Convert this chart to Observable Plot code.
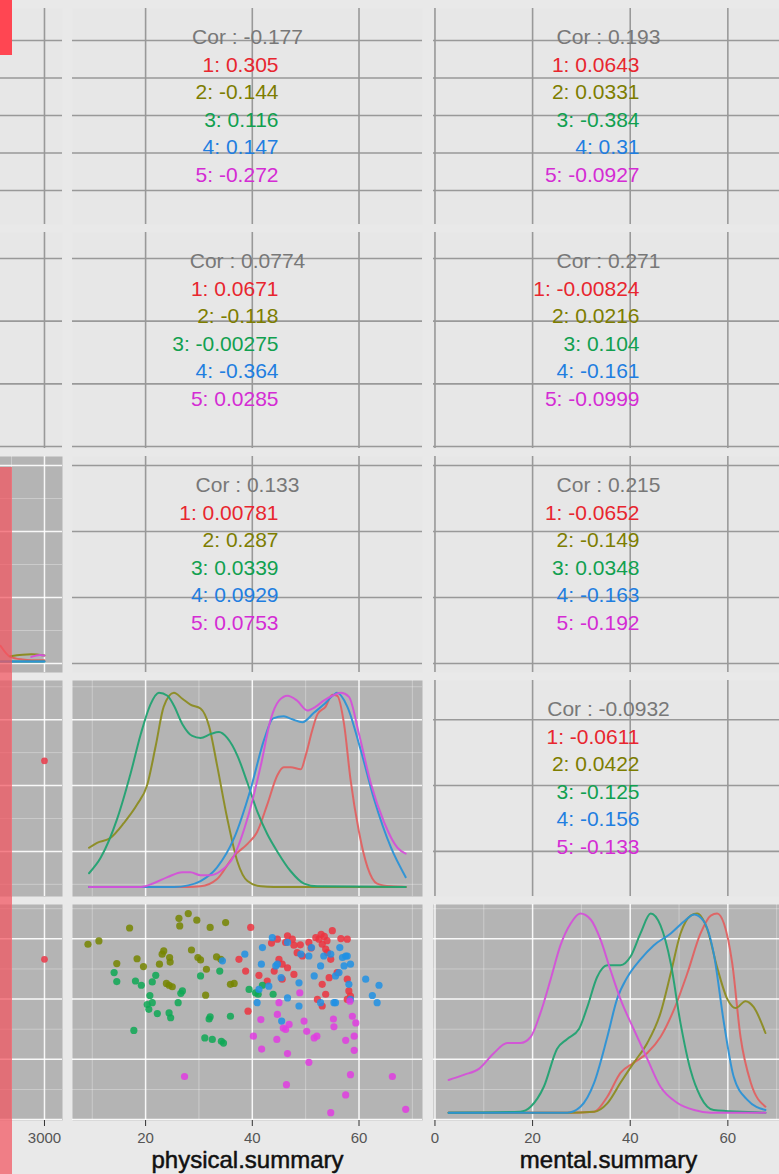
<!DOCTYPE html>
<html><head><meta charset="utf-8">
<script src="https://cdn.jsdelivr.net/npm/d3@7"></script>
<script src="https://cdn.jsdelivr.net/npm/@observablehq/plot@0.6"></script>
<style>
html,body{margin:0;padding:0;background:#e9e9e9;}
#chart{position:relative;width:779px;height:1174px;overflow:hidden;background:#e9e9e9;font-family:"Liberation Sans",Arial,sans-serif;}
#chart svg{position:absolute;}
.overlay{position:absolute;}
</style></head>
<body><div id="chart"></div>
<script>
// ---------- data ----------
const groups = ["1", "2", "3", "4", "5"];
const textColors = ["#e8262f", "#7d7d00", "#11a050", "#1f7ee0", "#d42cd4"];
const pointColors = ["#ec3440", "#758500", "#0ea855", "#2090e4", "#e03ce0"];
const lineColors = ["#e06262", "#8c8c22", "#22a272", "#2c92d6", "#d452d8"];

// correlation texts: rows 1..4, columns physical / mental
const corTotalPhys = [-0.177, 0.0774, 0.133];
const corTotalMent = [0.193, 0.271, 0.215, -0.0932];
const corGroupPhys = [
  [0.305, -0.144, 0.116, 0.147, -0.272],
  [0.0671, -0.118, -0.00275, -0.364, 0.0285],
  [0.00781, 0.287, 0.0339, 0.0929, 0.0753]
];
const corGroupMent = [
  [0.0643, 0.0331, -0.384, 0.31, -0.0927],
  [-0.00824, 0.0216, 0.104, -0.161, -0.0999],
  [-0.0652, -0.149, 0.0348, -0.163, -0.192],
  [-0.0611, 0.0422, -0.125, -0.156, -0.133]
];

// scatter: [physical.summary, mental.summary]
const pts1 = [[39.7,63.8],[37.5,53.2],[38.75,49.3],[41.25,47.9],[39.2,36.0],[43.6,58.6],[44.7,59.9],[45.0,53.2],[46.25,58.8],[46.6,61.0],[47.5,59.9],[47.8,57.9],[48.4,55.4],[49.4,54.3],[50.6,58.8],[51.9,60.4],[52.5,59.9],[53.1,58.2],[53.75,56.6],[55.0,62.7],[56.6,60.1],[57.8,59.9],[54.1,55.4],[54.7,53.2],[55.9,48.8],[54.4,47.1],[53.1,44.9],[53.75,41.6],[57.8,46.6],[58.1,42.7],[58.4,41.0],[57.8,39.9],[47.8,48.2],[45.6,46.6],[46.6,50.4],[42.8,46.0],[44.1,49.3],[53.1,37.7],[52.2,39.9],[45.6,51.6],[52.9,61.5],[53.5,60.8],[54.0,59.4],[51.0,57.0],[49.0,58.0]];
const pts2 = [[17.0,63.6],[26.25,66.8],[28.0,68.4],[29.6,66.2],[26.4,64.3],[32.1,63.8],[35.0,65.4],[9.2,58.2],[11.25,59.3],[18.4,53.4],[14.6,51.8],[19.6,50.8],[23.4,56.0],[23.1,54.9],[24.5,53.8],[22.6,51.6],[24.6,52.3],[28.6,56.3],[29.8,53.8],[30.3,53.0],[33.3,54.0],[34.1,53.2],[31.4,49.9],[23.9,45.2],[24.4,44.6],[25.0,44.1],[31.25,41.3],[35.9,44.9],[36.6,45.2]];
const pts3 = [[14.1,48.8],[14.6,45.8],[18.1,46.0],[19.2,44.6],[21.25,45.7],[21.9,47.9],[20.8,41.2],[20.3,38.2],[20.6,36.6],[22.2,35.2],[21.25,38.8],[24.4,35.4],[24.7,33.8],[26.1,38.8],[26.9,42.7],[26.6,41.9],[30.3,47.7],[33.9,49.3],[32.1,34.1],[31.9,33.4],[35.9,34.3],[17.8,29.6],[31.1,27.1],[32.5,26.6],[34.2,26.0],[34.6,25.4],[39.4,43.2],[40.6,42.1],[41.9,44.6],[43.9,41.6],[41.1,41.6]];
const pts4 = [[34.4,52.7],[38.6,54.9],[41.9,57.1],[43.75,60.4],[41.7,51.6],[44.4,51.0],[45.4,47.1],[49.1,54.9],[50.6,54.3],[52.8,51.0],[53.4,54.3],[54.7,54.9],[55.6,47.7],[56.25,48.8],[56.9,53.8],[57.8,54.3],[58.4,51.6],[46.6,40.4],[48.75,37.7],[52.8,38.8],[55.3,38.8],[58.1,44.9],[58.4,39.9],[61.25,46.6],[62.5,41.2],[63.4,38.8],[63.75,44.6],[40.9,38.8],[41.25,43.2],[43.1,44.3],[45.5,32.7],[48.75,45.4],[51.6,47.7],[44.7,51.6],[46.6,58.8],[51.1,57.1],[56.4,57.1],[57.5,54.3],[55.6,38.8],[57.2,51.0]];
const pts5 = [[27.3,14.3],[40.2,27.7],[41.75,23.4],[41.6,33.2],[44.6,26.6],[44.7,34.9],[46.25,29.9],[46.9,31.6],[45.0,38.8],[46.6,21.9],[48.9,42.1],[49.7,32.7],[50.2,29.3],[51.6,27.1],[52.1,27.7],[50.6,19.0],[55.2,33.4],[55.3,30.8],[57.5,26.3],[58.75,34.3],[59.4,32.1],[59.1,27.7],[59.1,23.0],[58.4,14.9],[57.5,8.2],[54.7,2.3],[58.3,39.3],[66.25,14.3],[68.75,3.4],[46.4,11.6],[45.8,30.4]];

// the one visible observation in the left (cut) variable
const leftValue = [3000];
const leftPhys = [47.5];
const leftMent = [53.2];

// density curves (relative density 0..1) of physical.summary by group
const densPhysX = [
  [9.4,28,30.3,33.4,36.6,39.1,40.9,42.8,44.7,45.9,47.2,49.1,50,51.25,52.2,53.75,55,55.9,57.2,58.4,60,61.6,63.4,66,68.75],
  [9.4,10.9,13.4,15.9,18.4,20.3,21.9,23.4,25.3,26.9,28.4,30.3,31.9,33.4,35.3,37.2,39.1,41.6,44,68.75],
  [9.4,11.6,14.7,17.2,19.1,20.9,22.5,24.1,25.3,26.9,28.75,30.3,32.2,33.75,35.3,37.2,39.1,41,42.8,44.7,47.2,49.7,52.2,68.75],
  [9.4,25.3,28,30.3,33.4,36.6,39.7,42.2,43.9,45.9,47.5,49.4,51.6,53.4,55.3,55.9,57.8,60.3,62.8,66,68.75],
  [9.4,19.1,21.6,24.1,26.9,28.4,30.3,32.2,34,36.6,39.1,41.6,43.4,45,46.6,48.4,50.3,51.9,53.4,55,56.6,58.1,60,62.2,64.7,67.2,68.75]
];
const densPhysD = [
  [0,0,0.003,0.04,0.16,0.22,0.28,0.42,0.57,0.61,0.61,0.60,0.67,0.80,0.88,0.92,0.98,0.975,0.83,0.55,0.28,0.10,0.017,0.003,0],
  [0.20,0.225,0.25,0.325,0.42,0.52,0.72,0.92,0.99,0.96,0.93,0.91,0.82,0.62,0.35,0.13,0.03,0.003,0,0],
  [0.07,0.15,0.35,0.58,0.78,0.93,0.99,0.975,0.925,0.83,0.77,0.76,0.78,0.79,0.76,0.67,0.53,0.38,0.27,0.18,0.08,0.017,0.003,0],
  [0,0,0.008,0.03,0.10,0.25,0.5,0.75,0.86,0.87,0.855,0.84,0.89,0.93,0.98,0.99,0.92,0.70,0.45,0.2,0.05],
  [0,0,0.02,0.05,0.075,0.075,0.06,0.06,0.08,0.16,0.35,0.62,0.85,0.95,0.975,0.95,0.90,0.92,0.95,0.975,0.99,0.97,0.78,0.53,0.33,0.20,0.17]
];

// density curves (relative density 0..1) of mental.summary by group
const densMentX = [
  [2.8,27.1,32.6,35.3,38.0,40.7,43.5,46.2,49.0,51.7,54.4,56.5,57.8,59.2,60.9,62.6,64.7,67.7],
  [2.8,27.1,32.6,35.3,38.0,40.7,43.5,46.2,48.3,50.3,52.4,53.7,55.8,57.8,59.9,61.6,63.6,65.3,67.7],
  [2.8,17.5,19.6,22.3,25.0,27.1,29.5,31.2,33.2,35.3,38.0,40.1,42.1,44.2,46.2,48.3,50.3,52.4,54.4,57.1,67.7],
  [2.8,27.1,29.8,32.6,35.3,37.3,39.4,42.1,44.8,48.3,51.0,53.1,55.1,57.1,59.2,61.2,64.0,67.7],
  [2.8,5.9,9.0,12.1,14.8,17.5,19.6,21.6,23.7,25.7,27.8,29.8,31.9,33.9,35.9,38.0,40.7,43.5,46.2,49.6,53.1,56.5,67.7]
];
const densMentD = [
  [0,0,0.005,0.08,0.20,0.25,0.30,0.38,0.52,0.70,0.90,0.99,1.0,0.95,0.75,0.38,0.15,0.03],
  [0,0,0.005,0.047,0.15,0.25,0.35,0.50,0.70,0.90,0.99,1.0,0.92,0.73,0.57,0.525,0.56,0.53,0.40],
  [0,0.005,0.03,0.13,0.32,0.37,0.42,0.53,0.68,0.74,0.74,0.785,0.90,1.0,0.94,0.75,0.45,0.21,0.08,0.013,0],
  [0,0,0.03,0.15,0.38,0.57,0.68,0.77,0.84,0.90,0.96,0.995,0.96,0.80,0.45,0.18,0.064,0.013],
  [0.164,0.19,0.22,0.30,0.35,0.35,0.38,0.50,0.67,0.84,0.95,1.0,0.97,0.87,0.72,0.57,0.42,0.27,0.13,0.05,0.013,0,0]
];

// visible tail of the left variable's density (row 3 scale)
const leftDensX = [[1000,1450,2000,2400,3000],[1450,2400,3000],[1000,3000],[1000,3000],[2400,2800,3000]];
const leftDensY = [[1.27,1.1,1.06,1.05,1.05],[1.11,1.14,1.12],[1.03,1.03],[1.03,1.03],[1.1,1.13,1.12]];

// axis ticks
const xTicks = {L: [0, 3000], P: [20, 40, 60], M: [0, 20, 40, 60]};
const xAxisLabels = {L: [3000], P: [20, 40, 60], M: [0, 20, 40, 60]};
const xMinorTicks = {L: [1500], P: [10, 30, 50, 70], M: [10, 30, 50, 70]};
const yTicks = [[1, 2, 3, 4, 5], [1, 2, 3, 4], [1, 2, 3, 4], [20, 40, 60], [0, 20, 40, 60]];
const yMinorTicks = [[], [], [1.5, 2.5, 3.5], [10, 30, 50, 70], [10, 30, 50, 70]];
const axisTitles = {P: "physical.summary", M: "mental.summary"};

// ---------- layout ----------
const chart = document.getElementById("chart");
const W = 350, H = 216, AXIS_H = 54;
const colLeft = {L: -288, P: 72, M: 433};
const rowTop = [8, 232, 456, 680, 904];
const xDomain = {L: [-12100, 3820], P: [6.3, 71.9], M: [-0.3, 71.4]};
const yDomain = [[0.093, 5.853], [0.968, 4.415], [0.864, 4.136], [6.3, 71.9], [-0.3, 71.4]];
const FONT = "'Liberation Sans', Arial, Helvetica, sans-serif";

const scatter = [pts1, pts2, pts3, pts4, pts5].flatMap((pts, i) => pts.map(([p, m]) => ({g: groups[i], p, m})));
const physExt = d3.extent(scatter, d => d.p);
const mentExt = d3.extent(scatter, d => d.m);
const densPhys = groups.flatMap((g, i) => densPhysX[i].map((x, j) => ({g, x, y: physExt[0] + densPhysD[i][j] * (physExt[1] - physExt[0])})));
const densMent = groups.flatMap((g, i) => densMentX[i].map((x, j) => ({g, x, y: mentExt[0] + densMentD[i][j] * (mentExt[1] - mentExt[0])})));
const densLeft = groups.flatMap((g, i) => leftDensX[i].map((x, j) => ({g, x, y: leftDensY[i][j]})));
const leftPts = leftValue.map((v, i) => ({v, p: leftPhys[i], m: leftMent[i]}));

function corMarks(total, vals) {
  const marks = [Plot.text([`Cor : ${total}`], {text: d => d, frameAnchor: "top", lineAnchor: "middle", dy: 29, fontSize: 21, fill: "#787878", fontFamily: FONT})];
  vals.forEach((v, i) => {
    marks.push(Plot.text([`${i + 1}: ${v}`], {text: d => d, frameAnchor: "top", lineAnchor: "middle", dy: 29 + 27.5 * (i + 1), dx: 31, textAnchor: "end", fontSize: 21, fill: textColors[i], fontFamily: FONT}));
  });
  return marks;
}

function panel(col, row, lower, extra, opts = {}) {
  const marks = [Plot.frame({fill: lower ? "#b4b4b4" : "#e7e7e7", stroke: "none"})];
  if (lower) {
    marks.push(Plot.ruleX(xMinorTicks[col], {stroke: "#ffffff", strokeOpacity: 0.35, strokeWidth: 0.9}));
    marks.push(Plot.ruleY(yMinorTicks[row], {stroke: "#ffffff", strokeOpacity: 0.35, strokeWidth: 0.9}));
    marks.push(Plot.ruleX(xTicks[col], {stroke: "#ffffff", strokeOpacity: 0.9, strokeWidth: 1.5}));
    marks.push(Plot.ruleY(yTicks[row], {stroke: "#ffffff", strokeOpacity: 0.9, strokeWidth: 1.5}));
  } else {
    marks.push(Plot.ruleX(xTicks[col], {stroke: "#999999", strokeWidth: 1.6}));
    marks.push(Plot.ruleY(yTicks[row], {stroke: "#999999", strokeWidth: 1.6}));
  }
  marks.push(...extra);
  if (opts.axis) {
    marks.push(Plot.axisX(xAxisLabels[col], {tickSize: 6, tickPadding: 6, fontSize: 15, label: null, tickFormat: d => String(d), stroke: "#333", fill: "#555", fontFamily: FONT}));
    if (axisTitles[col]) {
      marks.push(Plot.text([axisTitles[col]], {text: d => d, frameAnchor: "bottom", lineAnchor: "middle", dy: 40, fontSize: 24, fill: "#111", stroke: "#111", strokeWidth: 0.5, fontFamily: FONT}));
    }
  }
  const svg = Plot.plot({
    width: W,
    height: H + (opts.axis ? AXIS_H : 0),
    marginTop: 0, marginLeft: 0, marginRight: 0,
    marginBottom: opts.axis ? AXIS_H : 0,
    x: opts.axis ? {domain: xDomain[col]} : {domain: xDomain[col], axis: null},
    y: {domain: yDomain[row], axis: null},
    color: {type: "ordinal", domain: groups, range: opts.colors || pointColors},
    style: {background: "transparent", fontFamily: FONT, overflow: "visible"},
    marks
  });
  svg.style.left = colLeft[col] + "px";
  svg.style.top = rowTop[row] + "px";
  chart.appendChild(svg);
}

// row 1 and 2 (upper triangle)
panel("L", 0, false, []);
panel("P", 0, false, corMarks(corTotalPhys[0], corGroupPhys[0]));
panel("M", 0, false, corMarks(corTotalMent[0], corGroupMent[0]));
panel("L", 1, false, []);
panel("P", 1, false, corMarks(corTotalPhys[1], corGroupPhys[1]));
panel("M", 1, false, corMarks(corTotalMent[1], corGroupMent[1]));
// row 3
panel("L", 2, true, [Plot.line(densLeft, {x: "x", y: "y", z: "g", stroke: "g", strokeWidth: 2, curve: "monotone-x"})], {colors: lineColors});
panel("P", 2, false, corMarks(corTotalPhys[2], corGroupPhys[2]));
panel("M", 2, false, corMarks(corTotalMent[2], corGroupMent[2]));
// row 4: physical.summary
panel("L", 3, true, [Plot.dot(leftPts, {x: "v", y: "p", r: 3.4, fill: "#e84050", fillOpacity: 0.9})]);
panel("P", 3, true, [Plot.line(densPhys, {x: "x", y: "y", z: "g", stroke: "g", strokeWidth: 2, strokeOpacity: 0.95, curve: "monotone-x"})], {colors: lineColors});
panel("M", 3, false, corMarks(corTotalMent[3], corGroupMent[3]));
// row 5: mental.summary
panel("L", 4, true, [Plot.dot(leftPts, {x: "v", y: "m", r: 3.4, fill: "#e84050", fillOpacity: 0.9})], {axis: true});
panel("P", 4, true, [Plot.dot(scatter, {x: "p", y: "m", r: 3.6, fill: "g", fillOpacity: 0.85})], {axis: true});
panel("M", 4, true, [Plot.line(densMent, {x: "x", y: "y", z: "g", stroke: "g", strokeWidth: 2, strokeOpacity: 0.95, curve: "monotone-x"})], {axis: true, colors: lineColors});

// red overlays present in the screenshot
function overlay(left, top, w, h, color) {
  const d = document.createElement("div");
  d.className = "overlay";
  Object.assign(d.style, {left: left + "px", top: top + "px", width: w + "px", height: h + "px", background: color});
  chart.appendChild(d);
}
overlay(0, 0, 12, 55, "#ff4652");
overlay(0, 467, 12, 707, "rgba(242,85,96,0.72)");
</script>
</body></html>
